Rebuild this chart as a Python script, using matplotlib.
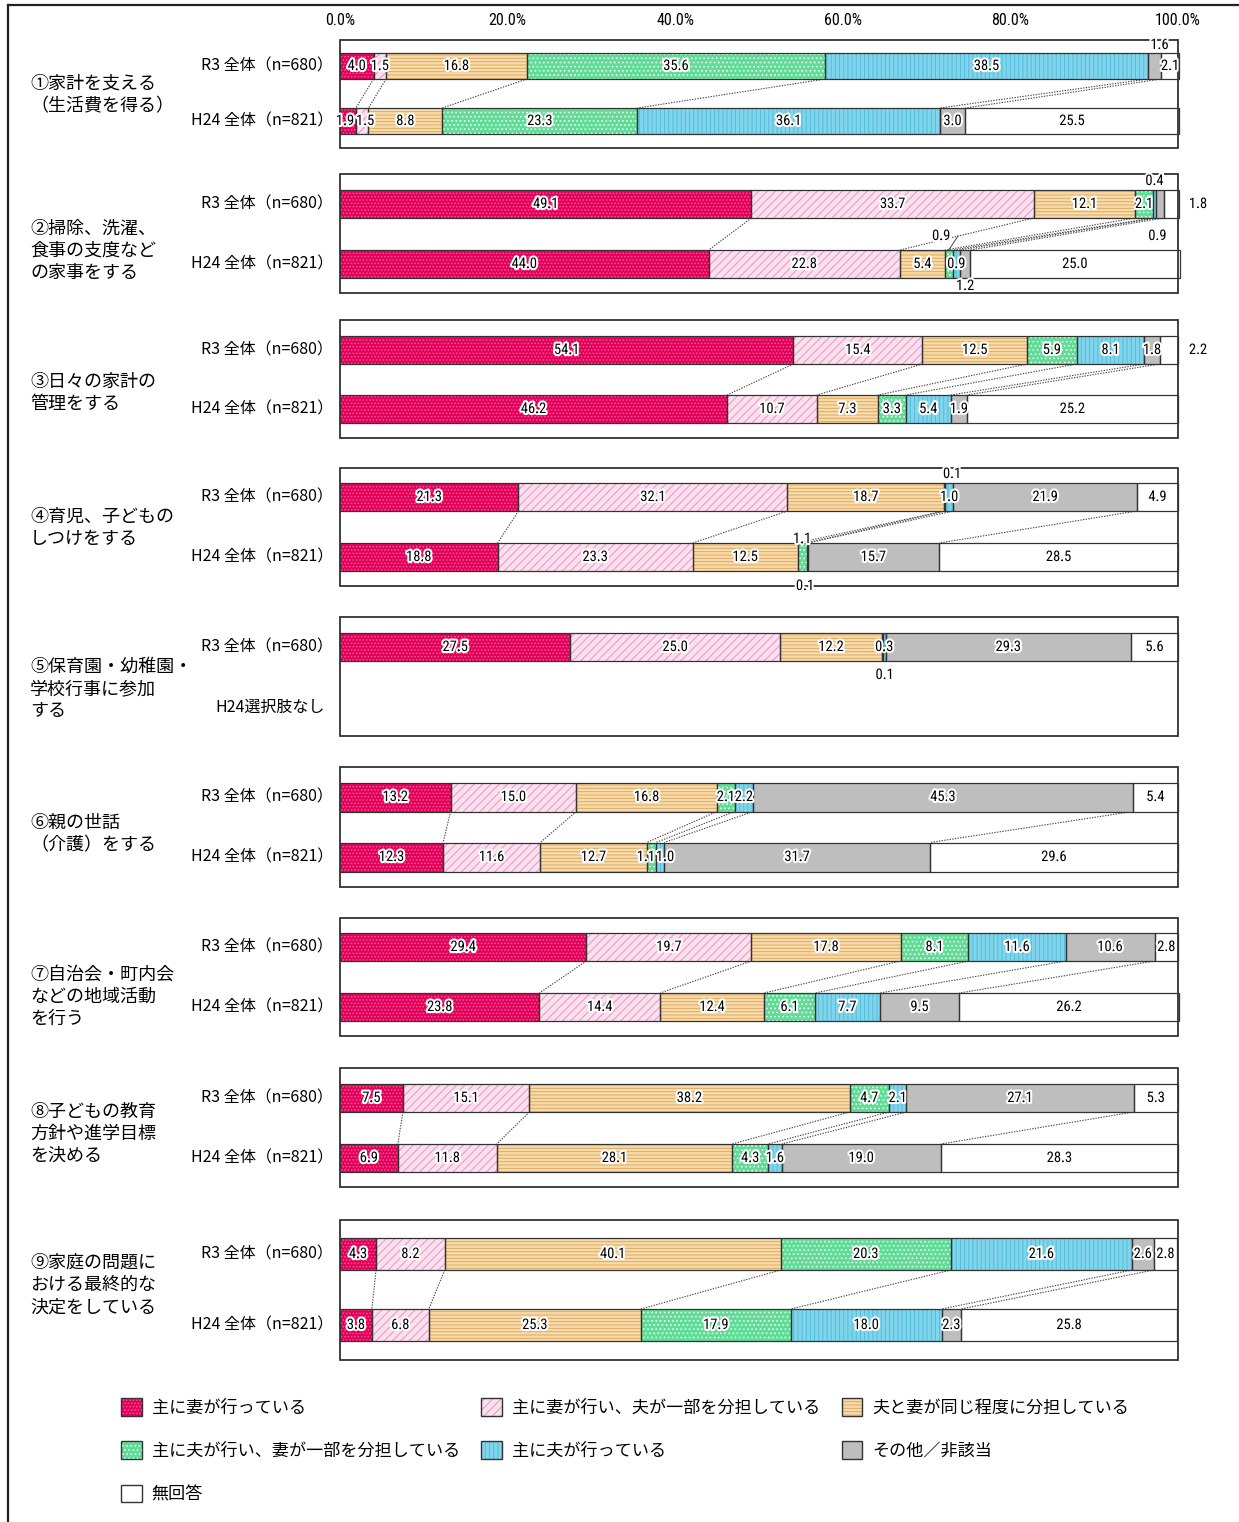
import matplotlib
matplotlib.use('Agg')
import matplotlib.pyplot as plt
from matplotlib.patches import Patch, Rectangle
from matplotlib.lines import Line2D
from matplotlib.legend_handler import HandlerTuple
import matplotlib.patheffects as pe
import numpy as np

# ---------------- data ----------------
categories = ['主に妻が行っている', '主に妻が行い、夫が一部を分担している', '夫と妻が同じ程度に分担している',
              '主に夫が行い、妻が一部を分担している', '主に夫が行っている', 'その他／非該当', '無回答']

items = ['①家計を支える\n（生活費を得る）',
         '②掃除、洗濯、\n食事の支度など\nの家事をする',
         '③日々の家計の\n管理をする',
         '④育児、子どもの\nしつけをする',
         '⑤保育園・幼稚園・\n学校行事に参加\nする',
         '⑥親の世話\n（介護）をする',
         '⑦自治会・町内会\nなどの地域活動\nを行う',
         '⑧子どもの教育\n方針や進学目標\nを決める',
         '⑨家庭の問題に\nおける最終的な\n決定をしている']

r3_label = 'R3 全体（n=680）'
h24_label = 'H24 全体（n=821）'
no_h24_label = 'H24選択肢なし'

r3_values = [
    [4.0, 1.5, 16.8, 35.6, 38.5, 1.6, 2.1],
    [49.1, 33.7, 12.1, 2.1, 0.4, 0.9, 1.8],
    [54.1, 15.4, 12.5, 5.9, 8.1, 1.8, 2.2],
    [21.3, 32.1, 18.7, 0.1, 1.0, 21.9, 4.9],
    [27.5, 25.0, 12.2, 0.1, 0.3, 29.3, 5.6],
    [13.2, 15.0, 16.8, 2.1, 2.2, 45.3, 5.4],
    [29.4, 19.7, 17.8, 8.1, 11.6, 10.6, 2.8],
    [7.5, 15.1, 38.2, 4.7, 2.1, 27.1, 5.3],
    [4.3, 8.2, 40.1, 20.3, 21.6, 2.6, 2.8],
]
h24_values = [
    [1.9, 1.5, 8.8, 23.3, 36.1, 3.0, 25.5],
    [44.0, 22.8, 5.4, 0.9, 0.9, 1.2, 25.0],
    [46.2, 10.7, 7.3, 3.3, 5.4, 1.9, 25.2],
    [18.8, 23.3, 12.5, 1.1, 0.1, 15.7, 28.5],
    None,
    [12.3, 11.6, 12.7, 1.1, 1.0, 31.7, 29.6],
    [23.8, 14.4, 12.4, 6.1, 7.7, 9.5, 26.2],
    [6.9, 11.8, 28.1, 4.3, 1.6, 19.0, 28.3],
    [3.8, 6.8, 25.3, 17.9, 18.0, 2.3, 25.8],
]
tick_values = [0, 20, 40, 60, 80, 100]
tick_labels = ['0.0%', '20.0%', '40.0%', '60.0%', '80.0%', '100.0%']

# ---------------- styles / layout ----------------
face_colors = ['#E4005A', '#FCE0EE', '#F7DBAA', '#60DC96', '#7FD5EC', '#BEBEBE', '#FFFFFF']
hatch_colors = ['#F25C95', '#E795C3', '#DFA862', '#E9FFF2', '#55BCD8', None, None]
hatches = ['.....', '////', '-----', '....', '||||', None, None]
EDGE = '#333333'

W, H = 1239, 1522
X0, PXPCT = 340.0, 8.38
def px2pct(px):
    return (px - X0) / PXPCT

# (box_top, box_bottom, r3_center, h24_center, bar_height) in pixels
geom = [
    (40, 148, 66, 121, 26),
    (174, 293, 204, 264, 28),
    (320, 438, 350, 409, 28),
    (468, 586, 497, 557, 28),
    (617, 736, 647, 707, 28),
    (767, 887, 797, 857, 29),
    (918, 1036, 947, 1007, 28),
    (1068, 1187, 1098, 1158, 28),
    (1220, 1360, 1254, 1325, 32),
]
item_label_y = [95, 251, 393, 528, 689, 834, 997, 1134, 1285]

# labels moved off their segment: (group,row,cat) -> (dx pct, dy px)
label_offsets = {
    (0, 0, 5): (0.6, -21),
    (0, 1, 0): (-0.35, 0),
    (0, 1, 1): (0.35, 0),
    (1, 0, 4): (0.0, -23),
    (1, 0, 5): (-0.3, 32),
    (1, 1, 3): (-0.9, -28),
    (1, 1, 5): (0.0, 22),
    (3, 0, 3): (0.9, -23),
    (3, 1, 3): (0.0, -18),
    (3, 1, 4): (-0.25, 29),
    (4, 0, 3): (0.25, 28),
    (5, 1, 3): (-0.65, 0),
    (5, 1, 4): (0.6, 0),
}
outside_right = {(1, 0, 6), (2, 0, 6)}
RIGHT_X = px2pct(1198)

num_font = ['Roboto Condensed', 'Liberation Sans', 'DejaVu Sans']
jp_font = ['Noto Sans CJK JP', 'DejaVu Sans']
plt.rcParams['font.family'] = jp_font
plt.rcParams['hatch.linewidth'] = 0.7

fig = plt.figure(figsize=(W / 100, H / 100), dpi=100)
ax = fig.add_axes([0, 0, 1, 1 - 32 / H])
ax.set_xlim(px2pct(0), px2pct(W))
ax.set_ylim(H, 32)
for s in ax.spines.values():
    s.set_visible(False)
ax.set_yticks([])
ax.xaxis.tick_top()
ax.set_xticks(tick_values, tick_labels)
ax.tick_params(axis='x', length=0, pad=3, labelsize=11.5)
for t in ax.get_xticklabels():
    t.set_fontfamily(num_font)

halo = [pe.withStroke(linewidth=3, foreground='white')]

def draw_row(vals, yc, h):
    vals = np.array(vals)
    lefts = np.concatenate([[0], np.cumsum(vals)[:-1]])
    for c in range(len(vals)):
        ax.barh(yc, vals[c], left=lefts[c], height=h, color=face_colors[c], linewidth=0, zorder=2)
        if hatches[c]:
            ax.barh(yc, vals[c], left=lefts[c], height=h, facecolor='none',
                    edgecolor=hatch_colors[c], hatch=hatches[c], linewidth=0, zorder=3)
        ax.barh(yc, vals[c], left=lefts[c], height=h, fill=False, edgecolor=EDGE,
                linewidth=0.9, zorder=4)
    return lefts, vals

for g in range(len(items)):
    bt, bb, yr, yh, bh = geom[g]
    ax.add_patch(Rectangle((0, bt), 100, bb - bt, fill=False, edgecolor=EDGE, linewidth=1.3, zorder=5))
    ax.text(px2pct(30), item_label_y[g], items[g], ha='left', va='center', fontsize=13,
            linespacing=1.3, family=jp_font)
    ax.text(px2pct(333), yr, r3_label, ha='right', va='center', fontsize=11.5, family=jp_font)
    rows = [(r3_values[g], yr)]
    if h24_values[g] is not None:
        ax.text(px2pct(333), yh, h24_label, ha='right', va='center', fontsize=11.5, family=jp_font)
        rows.append((h24_values[g], yh))
    else:
        ax.text(px2pct(325), yh, no_h24_label, ha='right', va='center', fontsize=11.5, family=jp_font)
    cums = []
    for ri, (vals, yc) in enumerate(rows):
        lefts, v = draw_row(vals, yc, bh)
        cums.append(lefts + v)
        for c in range(len(v)):
            key = (g, ri, c)
            xc = lefts[c] + v[c] / 2
            yy = yc
            if key in outside_right:
                xc = RIGHT_X
            elif key in label_offsets:
                dx, dy = label_offsets[key]
                xc += dx
                yy += dy
            ax.text(xc, yy, f'{v[c]:.1f}', ha='center', va='center', fontsize=10.5,
                    family=num_font, zorder=8, path_effects=halo)
    if len(cums) == 2:
        for i in range(6):
            ax.plot([cums[0][i], cums[1][i]], [yr + bh / 2, yh - bh / 2], color='#444444',
                    linestyle=(0, (1.2, 1.2)), linewidth=0.8, zorder=1)

# leader for group 2, H24 small segment
l2 = np.cumsum(h24_values[1])
ax.plot([px2pct(958), l2[2] + 0.45], [236, geom[1][3] - geom[1][4] / 2], color='#444444',
        linewidth=0.7, zorder=6)

# outer frame
fig.add_artist(Line2D([8 / W, 8 / W], [0, 1 - 5 / H], transform=fig.transFigure, color='#222222', linewidth=1.6))
fig.add_artist(Line2D([8 / W, 1], [1 - 5 / H, 1 - 5 / H], transform=fig.transFigure, color='#222222', linewidth=1.6))

# legend
handles = []
for c in range(len(categories)):
    parts = [Patch(facecolor=face_colors[c], linewidth=0)]
    if hatches[c]:
        parts.append(Patch(facecolor='none', edgecolor=hatch_colors[c], hatch=hatches[c], linewidth=0))
    parts.append(Patch(fill=False, edgecolor=EDGE, linewidth=1.0))
    handles.append(tuple(parts))
order = [0, 3, 6, 1, 4, 2, 5]
fig.legend([handles[i] for i in order], [categories[i] for i in order],
           handler_map={tuple: HandlerTuple(ndivide=1, pad=0)},
           loc='upper left', bbox_to_anchor=(121 / W, 1 - 1398 / H), ncol=3, frameon=False,
           handlelength=1.2, handleheight=1.2, handletextpad=0.6,
           labelspacing=1.45, columnspacing=1.25, borderpad=0, borderaxespad=0,
           prop={'family': jp_font, 'size': 12.3})

fig.savefig('out.png', dpi=100)
